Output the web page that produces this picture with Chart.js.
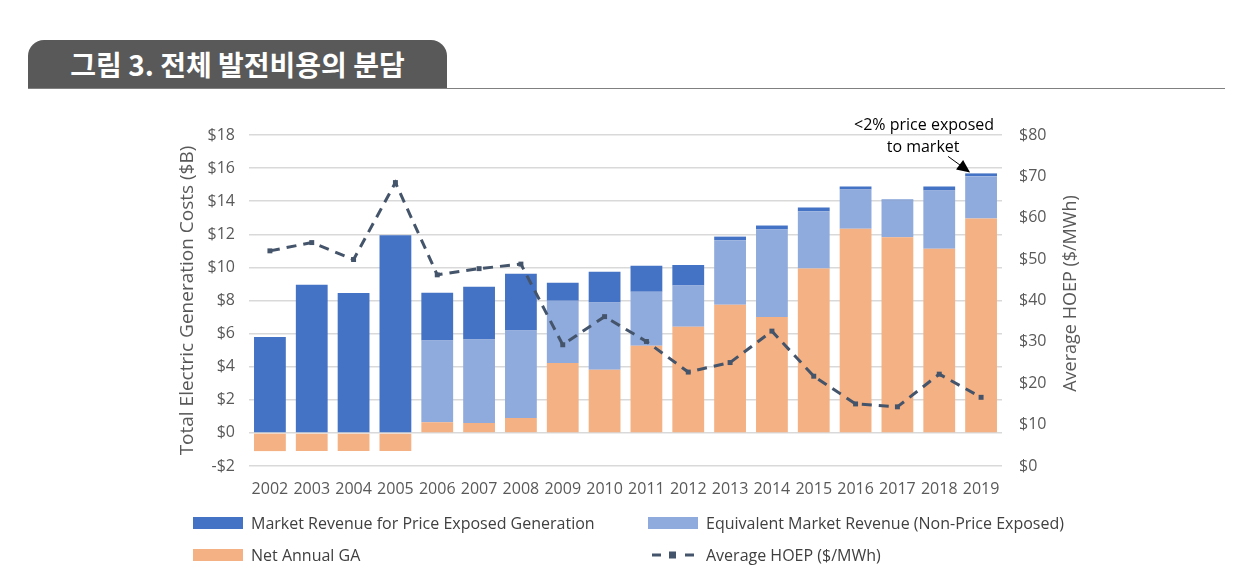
<!DOCTYPE html>
<html>
<head>
<meta charset="utf-8">
<script src="https://cdn.jsdelivr.net/npm/chart.js@4"></script>
<style>
  body { margin: 0; background: #fff; width: 1248px; height: 587px; overflow: hidden; position: relative; font-family: "Open Sans", sans-serif; }
  #title { position: absolute; left: 28px; top: 40px; width: 419px; height: 48px; background: #595959; border-radius: 16px 16px 0 0;
           color: #fff; font: bold 28px "Noto Sans CJK KR", sans-serif; line-height: 48px; text-align: center; }
  #rule { position: absolute; left: 28px; top: 88px; width: 1197px; height: 1px; background: #808080; }
  #wrap { position: absolute; left: 0; top: 0; width: 1248px; height: 587px; }
  .leg { position: absolute; display: flex; align-items: center; font-size: 16px; color: #404040; white-space: nowrap; }
  .sw { width: 50px; height: 12px; margin-right: 8px; }
</style>
</head>
<body>
<div id="title">그림 3. 전체 발전비용의 분담</div>
<div id="rule"></div>
<div id="wrap"><canvas id="chart"></canvas></div>
<div id="legend"></div>
<script>
const years = ['2002', '2003', '2004', '2005', '2006', '2007', '2008', '2009', '2010',
  '2011', '2012', '2013', '2014', '2015', '2016', '2017', '2018', '2019'];

// $B
const netGA = [-1.1, -1.1, -1.1, -1.1, 0.65, 0.6, 0.9, 4.22, 3.82, 5.26, 6.41, 7.74, 7.0, 9.94, 12.33, 11.82, 11.13, 12.95];
const equivRev = [0, 0, 0, 0, 4.93, 5.04, 5.28, 3.76, 4.06, 3.27, 2.5, 3.9, 5.3, 3.46, 2.38, 2.22, 3.52, 2.55];
const marketRev = [5.8, 8.95, 8.45, 11.95, 2.89, 3.19, 3.44, 1.09, 1.86, 1.57, 1.24, 0.22, 0.23, 0.22, 0.18, 0.06, 0.24, 0.18];

// $/MWh
const hoep = [52.0, 54.0, 49.9, 68.5, 46.2, 47.7, 48.8, 29.3, 36.1, 30.1, 22.7, 25.0, 32.6, 21.7, 15.0, 14.3, 22.2, 16.6];

const noteLines = ['<2% price exposed', 'to market'];
const rightTitle = 'Average HOEP ($/MWh)';

const gray = '#595959';
const font = { family: '"Open Sans", sans-serif', size: 16 };

// arrow + text pointing at the 2019 bar
const notePlugin = {
  id: 'note',
  afterDatasetsDraw(chart) {
    const { ctx, scales: { x, y } } = chart;
    const i = years.length - 1;
    const total = netGA[i] + equivRev[i] + marketRev[i];
    const tx = x.getPixelForValue(i) - 11;
    const ty = y.getPixelForValue(total) - 1;
    ctx.save();
    ctx.fillStyle = '#000';
    ctx.font = '16px "Open Sans", sans-serif';
    ctx.textAlign = 'center';
    ctx.textBaseline = 'middle';
    ctx.fillText(noteLines[0], tx - 46, ty - 47);
    ctx.fillText(noteLines[1], tx - 47, ty - 25);
    const sx = tx - 22, sy = ty - 16;
    const ang = Math.atan2(ty - sy, tx - sx);
    ctx.strokeStyle = '#000';
    ctx.lineWidth = 1;
    ctx.beginPath();
    ctx.moveTo(sx, sy);
    ctx.lineTo(tx - 10 * Math.cos(ang), ty - 10 * Math.sin(ang));
    ctx.stroke();
    ctx.beginPath();
    ctx.moveTo(tx, ty);
    ctx.lineTo(tx - 13 * Math.cos(ang) + 6 * Math.sin(ang), ty - 13 * Math.sin(ang) - 6 * Math.cos(ang));
    ctx.lineTo(tx - 13 * Math.cos(ang) - 6 * Math.sin(ang), ty - 13 * Math.sin(ang) + 6 * Math.cos(ang));
    ctx.closePath();
    ctx.fill();

    // right axis title reads bottom-to-top, like the left one
    const r = chart.scales.y1;
    ctx.translate(r.right - 19, (chart.chartArea.top + chart.chartArea.bottom) / 2 - 7);
    ctx.rotate(-Math.PI / 2);
    ctx.fillStyle = gray;
    ctx.font = '18px "Open Sans", sans-serif';
    ctx.fillText(rightTitle, 0, 0);
    ctx.restore();
  }
};

const chart = new Chart(document.getElementById('chart'), {
  type: 'bar',
  data: {
    labels: years,
    datasets: [
      { label: 'Average HOEP ($/MWh)', type: 'line', data: hoep, yAxisID: 'y1', order: 0,
        borderColor: '#44546A', borderWidth: 3, borderDash: [10, 7], fill: false, tension: 0,
        pointStyle: 'rect', pointRadius: 3.5, pointBackgroundColor: '#44546A', pointBorderColor: '#44546A', pointBorderWidth: 0 },
      { label: 'Net Annual GA', data: netGA, backgroundColor: '#F4B183', order: 1 },
      { label: 'Equivalent Market Revenue (Non-Price Exposed)', data: equivRev, backgroundColor: '#8FAADC', order: 1 },
      { label: 'Market Revenue for Price Exposed Generation', data: marketRev, backgroundColor: '#4472C4', order: 1 }
    ]
  },
  options: {
    responsive: true,
    maintainAspectRatio: false,
    animation: false,
    barPercentage: 0.76,
    categoryPercentage: 1,
    layout: { padding: { left: 170, right: 158, top: 135, bottom: 81 } },
    plugins: { legend: { display: false }, tooltip: { enabled: false } },
    scales: {
      x: {
        stacked: true,
        grid: { display: false, drawTicks: false },
        border: { display: false },
        ticks: { color: gray, font: font, padding: 14, maxRotation: 0, autoSkip: false },
        afterFit: s => { s.height = 40; }
      },
      y: {
        stacked: true,
        min: -2, max: 18,
        grid: { color: '#d9d9d9', lineWidth: 1.5, drawTicks: false },
        border: { display: false },
        ticks: { stepSize: 2, color: gray, font: font, padding: 14,
                 callback: v => (v < 0 ? '-$' + Math.abs(v) : '$' + v) },
        title: { display: true, text: 'Total Electric Generation Costs ($B)', color: gray,
                 font: { family: '"Open Sans", sans-serif', size: 19 }, padding: { top: 6, bottom: 0 } },
        afterFit: s => { s.width = 79; }
      },
      y1: {
        position: 'right',
        min: 0, max: 80,
        grid: { display: false, drawTicks: false },
        border: { display: false },
        ticks: { stepSize: 10, color: gray, font: font, padding: 17, callback: v => '$' + v },
        afterFit: s => { s.width = 88; }
      }
    }
  },
  plugins: [notePlugin]
});

// legend in two columns, built from the datasets
const legendSpots = [
  { label: 'Market Revenue for Price Exposed Generation', left: 193, top: 513 },
  { label: 'Equivalent Market Revenue (Non-Price Exposed)', left: 648, top: 513 },
  { label: 'Net Annual GA', left: 193, top: 545 },
  { label: 'Average HOEP ($/MWh)', left: 648, top: 545 }
];
const legendBox = document.getElementById('legend');
legendSpots.forEach(spot => {
  const ds = chart.data.datasets.find(d => d.label === spot.label);
  const item = document.createElement('div');
  item.className = 'leg';
  item.style.left = spot.left + 'px';
  item.style.top = spot.top + 'px';
  item.style.height = '20px';
  let sw;
  if (ds.type === 'line') {
    sw = '<svg class="sw" style="height:20px" width="50" height="20">' +
      '<line x1="4" y1="10" x2="13" y2="10" stroke="' + ds.borderColor + '" stroke-width="3"/>' +
      '<rect x="21" y="6.5" width="7" height="7" fill="' + ds.borderColor + '"/>' +
      '<line x1="37" y1="10" x2="46" y2="10" stroke="' + ds.borderColor + '" stroke-width="3"/></svg>';
  } else {
    sw = '<div class="sw" style="background:' + ds.backgroundColor + '"></div>';
  }
  item.innerHTML = sw + '<span>' + ds.label + '</span>';
  legendBox.appendChild(item);
});
</script>
</body>
</html>
